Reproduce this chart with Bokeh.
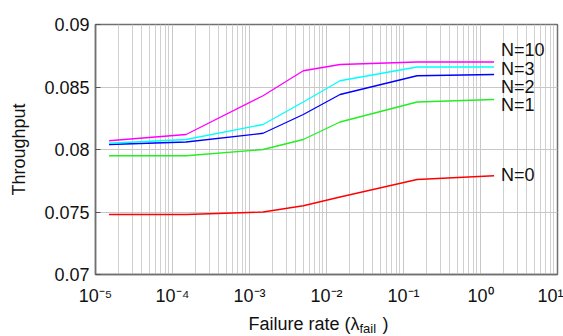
from bokeh.plotting import figure
from bokeh.models import FixedTicker, ColumnDataSource, Range1d
from bokeh.layouts import column
from bokeh.core.properties import value
from bokeh.embed import file_html
from bokeh.resources import INLINE

# ---- data ----
x_rate = [1.5e-5, 1.5e-4, 1.5e-3, 5e-3, 1.5e-2, 1.5e-1, 1.5]
n0 = [0.0748, 0.0748, 0.0750, 0.0755, 0.0762, 0.0776, 0.0779]
n1 = [0.0795, 0.0795, 0.0800, 0.0808, 0.0822, 0.0838, 0.0840]
n2 = [0.0804, 0.0806, 0.0813, 0.0828, 0.0844, 0.0859, 0.0860]
n3 = [0.0805, 0.0808, 0.0820, 0.0838, 0.0855, 0.0866, 0.0866]
n10 = [0.0807, 0.0812, 0.0843, 0.0863, 0.0868, 0.0870, 0.0870]

series_names = ["N=0", "N=1", "N=2", "N=3", "N=10"]
series_vals = [n0, n1, n2, n3, n10]
series_colors = ["#ff0000", "#22ee22", "#0000ff", "#00ffff", "#ff00ff"]
label_x = [1.5, 1.5, 1.5, 1.5, 1.5]
label_y = [0.07796, 0.08355, 0.08499, 0.08645, 0.08795]

y_ticks = [0.07, 0.075, 0.08, 0.085, 0.09]
y_tick_labels = ["0.07", "0.075", "0.08", "0.085", "0.09"]
x_ticks = [1e-5, 1e-4, 1e-3, 1e-2, 1e-1, 1e0, 1e1]
x_tick_labels = ["10\u207b\u2075", "10\u207b\u2074", "10\u207b\u00b3", "10\u207b\u00b2",
                 "10\u207b\u00b9", "10\u2070", "10\u00b9"]
x_minor = [m * d for d in x_ticks[:-1] for m in range(2, 10)]

x_title_main = "Failure rate (\u03bb"
x_title_sub = "fail"
x_title_end = ")"

FONT = "Liberation Sans"
TXT = "#111111"

p = figure(width=563, height=310, x_axis_type="log",
           x_range=Range1d(1e-5, 1e1), y_range=Range1d(0.07, 0.09),
           output_backend="svg", toolbar_location=None,
           min_border_left=95, min_border_right=6, min_border_top=24, min_border_bottom=36)

p.background_fill_color = "white"
p.border_fill_color = "white"
p.outline_line_color = "#707070"
p.outline_line_width = 1.5

for name, vals, col in zip(series_names, series_vals, series_colors):
    p.line(x_rate, vals, line_color=col, line_width=1.3)

src = ColumnDataSource(dict(x=label_x, y=label_y, t=series_names))
p.text(x="x", y="y", text="t", source=src, x_offset=7, text_baseline="middle",
       text_align="left", text_font=value(FONT), text_font_size="18px", text_color=TXT)

# axes
xt = FixedTicker(ticks=x_ticks, minor_ticks=x_minor)
yt = FixedTicker(ticks=y_ticks)
p.xaxis.ticker = xt
p.xgrid.ticker = xt
p.yaxis.ticker = yt
p.ygrid.ticker = yt
p.xaxis.major_label_overrides = {t: l for t, l in zip(x_ticks, x_tick_labels)}
p.yaxis.major_label_overrides = {t: l for t, l in zip(y_ticks, y_tick_labels)}

for ax in [p.xaxis[0], p.yaxis[0]]:
    ax.axis_line_color = "#707070"
    ax.axis_line_width = 1.5
    ax.major_label_text_font = FONT
    ax.major_label_text_font_size = "18px"
    ax.major_label_text_color = TXT
    ax.minor_tick_line_color = None
    ax.axis_label_text_font = FONT
    ax.axis_label_text_font_size = "18px"
    ax.axis_label_text_font_style = "normal"
    ax.axis_label_text_color = TXT

p.xaxis.major_tick_line_color = None
p.xaxis.major_label_standoff = 5
p.yaxis.major_tick_in = 5
p.yaxis.major_tick_out = 0
p.yaxis.major_tick_line_color = "#555555"
p.yaxis.major_label_standoff = 6
p.yaxis.axis_label = "Throughput"
p.yaxis.axis_label_standoff = 12

p.xgrid.grid_line_color = "#c8c8c8"
p.xgrid.minor_grid_line_color = "#d0d0d0"
p.ygrid.grid_line_color = "#c8c8c8"

# x axis title strip (with subscript), drawn below the chart.
# The column layout aligns this strip's frame with the chart frame (page x 95..557),
# so its x range is set to those page pixels.
q = figure(width=563, height=26, x_range=Range1d(95, 557), y_range=Range1d(0, 26),
           output_backend="svg", toolbar_location=None, min_border=0,
           x_axis_location=None, y_axis_location=None, title=None)
q.grid.visible = False
q.outline_line_color = None
q.background_fill_color = "white"
q.border_fill_color = "white"
q.text(x=[248], y=[13], text=[x_title_main], text_align="left", text_baseline="alphabetic",
       text_font=value(FONT), text_font_size="18px", text_color=TXT)
q.text(x=[359], y=[8], text=[x_title_sub], text_align="left", text_baseline="alphabetic",
       text_font=value(FONT), text_font_size="13px", text_color=TXT)
q.text(x=[382], y=[13], text=[x_title_end], text_align="left", text_baseline="alphabetic",
       text_font=value(FONT), text_font_size="18px", text_color=TXT)

open("out.html", "w").write(file_html(column(p, q, spacing=0), INLINE))
